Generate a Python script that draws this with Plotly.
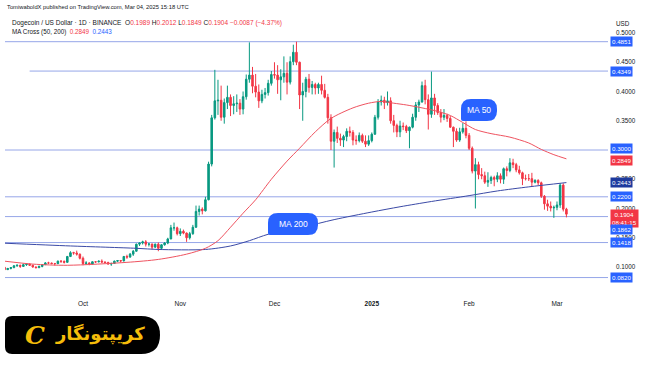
import plotly.graph_objects as go
import pandas as pd

# ---------------- data ----------------
dates = pd.date_range("2024-09-06", "2025-03-04", freq="D")

opens = [
    # Sep 6-30
    0.0995,0.0955,0.0975,0.0990,0.1020,0.1030,0.1010,0.1040,0.1050,0.1030,0.1000,0.0990,0.1010,0.1040,0.1070,0.1068,0.1060,0.1058,0.1100,0.1098,0.1080,0.1180,0.1245,0.1240,0.1220,
    # Oct
    0.1150,0.1060,0.1070,0.1050,0.1090,0.1088,0.1100,0.1085,0.1078,0.1050,0.1060,0.1100,0.1110,0.1105,0.1180,0.1170,0.1220,0.1270,0.1390,0.1410,0.1430,0.1390,0.1392,0.1340,0.1390,0.1320,0.1380,0.1410,0.1480,0.1670,0.1670,
    # Nov
    0.1570,0.1610,0.1580,0.1500,0.1570,0.1680,0.1950,0.1990,0.1960,0.2150,0.2760,0.3550,0.3840,0.3850,0.3560,0.3810,0.3900,0.3760,0.3790,0.3800,0.3700,0.3910,0.4210,0.4280,0.4090,0.3990,0.3840,0.3950,0.3980,0.4140,
    # Dec
    0.4290,0.4280,0.4200,0.4250,0.4310,0.4160,0.4510,0.4670,0.4500,0.3940,0.4000,0.4210,0.4070,0.4120,0.4060,0.4120,0.4020,0.3900,0.3550,0.3150,0.3300,0.3200,0.3170,0.3230,0.3320,0.3300,0.3170,0.3160,0.3250,0.3150,0.3100,
    # Jan
    0.3160,0.3270,0.3560,0.3820,0.3850,0.3810,0.3840,0.3500,0.3420,0.3310,0.3410,0.3400,0.3330,0.3390,0.3560,0.3770,0.3820,0.4100,0.3860,0.3610,0.3890,0.3760,0.3640,0.3560,0.3590,0.3540,0.3390,0.3320,0.3170,0.3310,0.3370,
    # Feb
    0.3250,0.3030,0.2640,0.2750,0.2580,0.2560,0.2450,0.2480,0.2530,0.2500,0.2560,0.2500,0.2680,0.2650,0.2780,0.2750,0.2660,0.2610,0.2510,0.2510,0.2510,0.2450,0.2480,0.2440,0.2210,0.2080,0.2040,0.2010,
    # Mar 1-4
    0.2020,0.2060,0.2400,0.1989,
]
highs = [
    0.1010,0.0985,0.1000,0.1035,0.1045,0.1040,0.1055,0.1065,0.1060,0.1040,0.1010,0.1025,0.1050,0.1085,0.1090,0.1075,0.1070,0.1110,0.1115,0.1110,0.1190,0.1270,0.1260,0.1280,0.1230,
    0.1180,0.1100,0.1080,0.1095,0.1100,0.1110,0.1130,0.1095,0.1090,0.1075,0.1110,0.1120,0.1120,0.1190,0.1210,0.1240,0.1290,0.1400,0.1420,0.1450,0.1460,0.1410,0.1400,0.1400,0.1420,0.1390,0.1425,0.1500,0.1720,0.1760,0.1690,
    0.1660,0.1640,0.1590,0.1600,0.1720,0.2050,0.2050,0.2020,0.2200,0.2800,0.3600,0.4370,0.4200,0.4100,0.3880,0.4100,0.3950,0.3920,0.3950,0.3870,0.4000,0.4290,0.4840,0.4420,0.4300,0.4120,0.4030,0.4060,0.4200,0.4350,
    0.4500,0.4450,0.4380,0.4600,0.4500,0.4600,0.4800,0.4851,0.4510,0.4150,0.4250,0.4300,0.4180,0.4150,0.4150,0.4270,0.4130,0.3960,0.3610,0.3350,0.3400,0.3280,0.3260,0.3370,0.3400,0.3340,0.3250,0.3300,0.3280,0.3250,0.3250,
    0.3300,0.3600,0.3870,0.3930,0.3910,0.4000,0.3900,0.3600,0.3450,0.3500,0.3470,0.3430,0.3400,0.3620,0.3820,0.3860,0.4170,0.4200,0.3950,0.4340,0.3960,0.3800,0.3700,0.3700,0.3620,0.3580,0.3400,0.3370,0.3380,0.3460,0.3490,
    0.3290,0.3060,0.2860,0.2800,0.2690,0.2630,0.2620,0.2560,0.2560,0.2620,0.2600,0.2700,0.2720,0.2860,0.2850,0.2780,0.2730,0.2630,0.2580,0.2590,0.2610,0.2500,0.2500,0.2460,0.2230,0.2150,0.2120,0.2050,
    0.2120,0.2430,0.2430,0.2012,
]
lows = [
    0.0930,0.0950,0.0960,0.0980,0.1005,0.0985,0.1005,0.1020,0.1025,0.0990,0.0975,0.0980,0.0995,0.1035,0.1050,0.1045,0.1025,0.1050,0.1070,0.1060,0.1075,0.1170,0.1210,0.1195,0.1130,
    0.1030,0.1035,0.1030,0.1045,0.1070,0.1080,0.1075,0.1060,0.1040,0.1020,0.1055,0.1085,0.1080,0.1095,0.1140,0.1160,0.1190,0.1265,0.1360,0.1385,0.1350,0.1350,0.1300,0.1330,0.1270,0.1300,0.1365,0.1390,0.1475,0.1620,0.1540,
    0.1530,0.1560,0.1430,0.1470,0.1550,0.1670,0.1880,0.1900,0.1950,0.2140,0.2720,0.3520,0.3600,0.3500,0.3450,0.3700,0.3580,0.3610,0.3650,0.3600,0.3610,0.3860,0.4150,0.3970,0.3900,0.3720,0.3800,0.3880,0.3930,0.4100,
    0.4220,0.3960,0.3850,0.4150,0.3950,0.4120,0.4450,0.4450,0.3700,0.3500,0.3900,0.3980,0.3950,0.3950,0.3960,0.3950,0.3880,0.3450,0.3000,0.2700,0.3120,0.3070,0.3050,0.3150,0.3230,0.3080,0.3090,0.3130,0.3120,0.3050,0.3070,
    0.3130,0.3260,0.3520,0.3760,0.3700,0.3760,0.3450,0.3300,0.3220,0.3220,0.3340,0.3290,0.3030,0.3370,0.3500,0.3650,0.3810,0.3780,0.3350,0.3550,0.3600,0.3600,0.3470,0.3510,0.3480,0.3380,0.3050,0.3140,0.3140,0.3280,0.3200,
    0.3000,0.2600,0.2000,0.2500,0.2500,0.2420,0.2370,0.2420,0.2380,0.2450,0.2430,0.2420,0.2550,0.2620,0.2690,0.2620,0.2580,0.2400,0.2480,0.2470,0.2380,0.2430,0.2400,0.2180,0.1980,0.1960,0.1950,0.1840,
    0.1970,0.2010,0.1950,0.1849,
]
closes = [
    0.0955,0.0975,0.0990,0.1020,0.1030,0.1010,0.1040,0.1050,0.1030,0.1000,0.0990,0.1010,0.1040,0.1070,0.1068,0.1060,0.1058,0.1100,0.1098,0.1080,0.1180,0.1245,0.1240,0.1220,0.1150,
    0.1060,0.1070,0.1050,0.1090,0.1088,0.1100,0.1085,0.1078,0.1050,0.1060,0.1100,0.1110,0.1105,0.1180,0.1170,0.1220,0.1270,0.1390,0.1410,0.1430,0.1390,0.1392,0.1340,0.1390,0.1320,0.1380,0.1410,0.1480,0.1670,0.1670,0.1570,
    0.1610,0.1580,0.1500,0.1570,0.1680,0.1950,0.1990,0.1960,0.2150,0.2760,0.3550,0.3840,0.3850,0.3560,0.3810,0.3900,0.3760,0.3790,0.3800,0.3700,0.3910,0.4210,0.4280,0.4090,0.3990,0.3840,0.3950,0.3980,0.4140,0.4290,
    0.4280,0.4200,0.4250,0.4310,0.4160,0.4510,0.4670,0.4500,0.3940,0.4000,0.4210,0.4070,0.4120,0.4060,0.4120,0.4020,0.3900,0.3550,0.3150,0.3300,0.3200,0.3170,0.3230,0.3320,0.3300,0.3170,0.3160,0.3250,0.3150,0.3100,0.3160,
    0.3270,0.3560,0.3820,0.3850,0.3810,0.3840,0.3500,0.3420,0.3310,0.3410,0.3400,0.3330,0.3390,0.3560,0.3770,0.3820,0.4100,0.3860,0.3610,0.3890,0.3760,0.3640,0.3560,0.3590,0.3540,0.3390,0.3320,0.3170,0.3310,0.3370,0.3250,
    0.3030,0.2640,0.2750,0.2580,0.2560,0.2450,0.2480,0.2530,0.2500,0.2560,0.2500,0.2680,0.2650,0.2780,0.2750,0.2660,0.2610,0.2510,0.2510,0.2510,0.2450,0.2480,0.2440,0.2210,0.2080,0.2040,0.2010,0.2020,
    0.2060,0.2400,0.1989,0.1904,
]

ma50_dates = ["2024-09-06","2024-09-15","2024-09-26","2024-10-15","2024-10-25","2024-11-03","2024-11-09",
              "2024-11-13","2024-11-17","2024-11-21","2024-11-25","2024-11-30","2024-12-05","2024-12-09",
              "2024-12-14","2024-12-19","2024-12-26","2024-12-31","2025-01-04","2025-01-08","2025-01-12",
              "2025-01-17","2025-01-22","2025-01-26","2025-01-30","2025-02-03","2025-02-08","2025-02-14",
              "2025-02-20","2025-02-24","2025-02-28","2025-03-04"]
ma50_vals = [0.110,0.105,0.103,0.108,0.113,0.122,0.132,
             0.145,0.168,0.192,0.215,0.250,0.281,0.303,
             0.331,0.354,0.372,0.380,0.383,0.380,0.377,
             0.372,0.366,0.359,0.347,0.335,0.328,0.322,
             0.312,0.301,0.292,0.2849]

ma200_dates = ["2024-09-06","2024-09-27","2024-10-18","2024-10-25","2024-11-09","2024-11-17","2024-11-23",
               "2024-11-29","2024-12-10","2024-12-20","2025-01-01","2025-01-10","2025-01-20","2025-02-01",
               "2025-02-10","2025-02-20","2025-03-04"]
ma200_vals = [0.1407,0.136,0.132,0.130,0.130,0.136,0.145,
              0.156,0.168,0.181,0.194,0.203,0.212,0.222,
              0.230,0.237,0.2443]

level_prices = [0.4851, 0.4349, 0.3000, 0.2200, 0.1862, 0.1418, 0.0820]
level_starts = ["2024-09-06", "2024-09-14", "2024-09-06", "2024-09-06", "2024-09-06", "2024-09-06", "2024-09-06"]

# 0.3000 is shown by its own level label, so the plain tick is omitted
tick_vals = [0.10, 0.15, 0.20, 0.25, 0.35, 0.40, 0.45, 0.50]
tick_text = ["0.1000", "0.1500", "0.2000", "0.2500", "0.3500", "0.4000", "0.4500", "0.5000"]

month_ticks = ["2024-10-01", "2024-11-01", "2024-12-01", "2025-01-01", "2025-02-01", "2025-03-01"]
month_text = ["Oct", "Nov", "Dec", "<b>2025</b>", "Feb", "Mar"]

label_prices = [0.4851, 0.4349, 0.3000, 0.2849, 0.2443, 0.2200, 0.1904, 0.1862, 0.1418, 0.0820]
label_texts = ["0.4851", "0.4349", "0.3000", "0.2849", "0.2443", "0.2200", "0.1904<br>08:41:15", "0.1862", "0.1418", "0.0820"]
label_colors = ["#2962ff", "#2962ff", "#2962ff", "#f23645", "#1e3a9e", "#2962ff", "#f23645", "#2962ff", "#2962ff", "#2962ff"]
label_shift = [0, 0, 2, -2, 0, 0, -4, -13, 0, 0]

# ---------------- styling ----------------
GREEN = "#089981"
RED = "#f23645"
LEVEL_COLOR = "#96a6e8"
FONT = "Liberation Sans"
TXT = "#131722"

W, H = 650, 365
L, R, T, B = 5, 42, 30, 72
PW, PH = W - L - R, H - T - B


def px(x):
    return (x - L) / PW


def py(y):
    return (H - B - y) / PH


def rrect(x0, y0, x1, y1, rtl, rtr, rbr, rbl):
    def P(a, b):
        return f"{px(a):.5f},{py(b):.5f}"
    s = f"M {P(x0 + rtl, y0)} L {P(x1 - rtr, y0)} Q {P(x1, y0)} {P(x1, y0 + rtr)} "
    s += f"L {P(x1, y1 - rbr)} Q {P(x1, y1)} {P(x1 - rbr, y1)} "
    s += f"L {P(x0 + rbl, y1)} Q {P(x0, y1)} {P(x0, y1 - rbl)} "
    s += f"L {P(x0, y0 + rtl)} Q {P(x0, y0)} {P(x0 + rtl, y0)} Z"
    return s


fig = go.Figure()

fig.add_trace(go.Candlestick(
    x=dates, open=opens, high=highs, low=lows, close=closes,
    increasing=dict(line=dict(color=GREEN, width=1), fillcolor=GREEN),
    decreasing=dict(line=dict(color=RED, width=1), fillcolor=RED),
    whiskerwidth=0, showlegend=False, hoverinfo="skip",
))

fig.add_trace(go.Scatter(x=ma200_dates, y=ma200_vals, mode="lines",
                         line=dict(color="#3b4aa6", width=1, shape="spline", smoothing=0.8),
                         showlegend=False, hoverinfo="skip"))
fig.add_trace(go.Scatter(x=ma50_dates, y=ma50_vals, mode="lines",
                         line=dict(color="#ef5360", width=1, shape="spline", smoothing=0.8),
                         showlegend=False, hoverinfo="skip"))

x_end = "2025-03-17 06:00"
for p, s in zip(level_prices, level_starts):
    fig.add_shape(type="line", xref="x", yref="y", x0=s, x1=x_end, y0=p, y1=p,
                  line=dict(color=LEVEL_COLOR, width=1), layer="below")

# right price labels
for p, t, c, sh in zip(label_prices, label_texts, label_colors, label_shift):
    fig.add_annotation(x=1, xref="paper", y=p, yref="y", xanchor="left", yanchor="middle",
                       xshift=2, yshift=sh, text=t, showarrow=False,
                       font=dict(family=FONT, size=6.2, color="white"),
                       bgcolor=c, borderpad=1, align="center")

# MA callouts
fig.add_shape(type="path", xref="paper", yref="paper", path=rrect(461, 99, 497, 121, 10, 10, 10, 2),
              fillcolor="#2962ff", line=dict(width=0), layer="above")
fig.add_annotation(x=px(479), y=py(110), xref="paper", yref="paper", xanchor="center", yanchor="middle",
                   text="MA 50", showarrow=False,
                   font=dict(family=FONT, size=8.5, color="white"))
fig.add_shape(type="path", xref="paper", yref="paper", path=rrect(268, 213, 318, 235, 10, 10, 10, 2),
              fillcolor="#2962ff", line=dict(width=0), layer="above")
fig.add_annotation(x=px(293), y=py(224), xref="paper", yref="paper", xanchor="center", yanchor="middle",
                   text="MA 200", showarrow=False,
                   font=dict(family=FONT, size=8.5, color="white"))

# header
fig.add_annotation(x=px(5), y=py(7), xref="paper", yref="paper", xanchor="left", yanchor="middle",
                   text="TomiwaboldX published on TradingView.com, Mar 04, 2025 15:18 UTC", showarrow=False,
                   font=dict(family=FONT, size=5.8, color=TXT))
rs = "<span style='color:#f23645'>"
fig.add_annotation(x=px(10), y=py(22.5), xref="paper", yref="paper", xanchor="left", yanchor="middle",
                   text=("Dogecoin / US Dollar · 1D · BINANCE  O" + rs + "0.1989</span> H" + rs + "0.2012</span> L"
                         + rs + "0.1849</span> C" + rs + "0.1904</span> " + rs + "−0.0087 (−4.37%)</span>"),
                   showarrow=False, font=dict(family=FONT, size=6.5, color=TXT))
fig.add_annotation(x=px(10), y=py(31.5), xref="paper", yref="paper", xanchor="left", yanchor="middle",
                   text="MA Cross (50, 200)  <span style='color:#f23645'>0.2849</span>  <span style='color:#2962ff'>0.2443</span>",
                   showarrow=False, font=dict(family=FONT, size=6.3, color=TXT))
fig.add_annotation(x=px(623), y=py(23), xref="paper", yref="paper", xanchor="center", yanchor="middle",
                   text="USD", showarrow=False,
                   font=dict(family=FONT, size=6.3, color=TXT))

# logo badge
fig.add_shape(type="path", xref="paper", yref="paper", path=rrect(5, 316, 160, 354, 7, 19, 19, 7),
              fillcolor="#000000", line=dict(width=0), layer="above")
fig.add_annotation(x=px(100), y=py(334), xref="paper", yref="paper", xanchor="center", yanchor="middle",
                   text="<b>کریپتونگار</b>", showarrow=False,
                   font=dict(family="DejaVu Sans", size=18, color="#f5bd0a"))
fig.add_annotation(x=px(35), y=py(335), xref="paper", yref="paper", xanchor="center", yanchor="middle",
                   text="<b><i>C</i></b>", showarrow=False,
                   font=dict(family="DejaVu Serif", size=25, color="#f5bd0a"))

fig.update_layout(
    width=W, height=H, margin=dict(l=L, r=R, t=T, b=B),
    paper_bgcolor="white", plot_bgcolor="white",
    showlegend=False,
    xaxis=dict(type="date", range=["2024-09-06 03:36", x_end], rangeslider=dict(visible=False),
               tickvals=month_ticks, ticktext=month_text, showgrid=False, zeroline=False,
               showline=False, ticks="", tickfont=dict(family=FONT, size=6.5, color=TXT),
               ticklabelstandoff=5, fixedrange=True),
    yaxis=dict(side="right", range=[0.0556, 0.5051], tickvals=tick_vals, ticktext=tick_text,
               showgrid=False, zeroline=False, showline=False, ticks="",
               tickfont=dict(family=FONT, size=6.3, color=TXT), ticklabelstandoff=7, fixedrange=True),
)

fig.write_html("out.html", config={"displayModeBar": False},
               post_script="document.body.style.margin='0px';document.body.style.padding='0px';")
